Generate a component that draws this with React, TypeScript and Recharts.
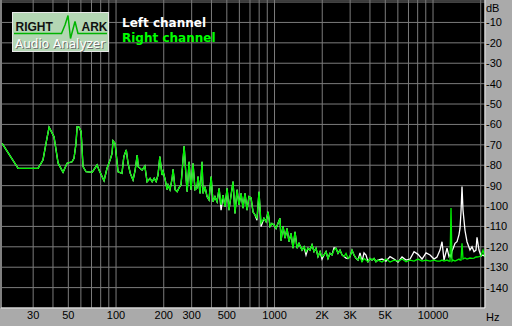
import { LineChart, Line, XAxis, YAxis, CartesianGrid, ReferenceLine } from 'recharts';

// spectrum readout, frequency in Hz
const freqHz = [
  19.1, 24.1, 32.2, 34.6, 36.2, 37.8, 40.6, 43.1, 46.3, 49.1,
  52.8, 54.3, 55.9, 56.8, 58.4, 60.2, 61.9, 64.7, 70.6, 75.9,
  78.1, 84.0, 87.7, 91.7, 94.4, 95.7, 98.6, 103, 109, 112,
  116, 119, 123, 128, 132, 136, 138, 146, 152, 157,
  164, 169, 174, 179, 184, 189, 195, 198, 204, 210,
  213, 219, 226, 229, 236, 243, 250, 257, 269, 277,
  281, 289, 297, 306, 315, 324, 329, 339, 349, 354,
  364, 375, 386, 398, 409, 421, 434, 447, 460, 473,
  487, 502, 516, 532, 547, 563, 580, 597, 615, 633,
  651, 671, 690, 711, 732, 753, 775, 798, 822, 858,
  884, 910, 937, 964, 993, 1022, 1052, 1083, 1099, 1131,
  1165, 1199, 1234, 1271, 1308, 1347, 1387, 1427, 1491, 1535,
  1580, 1627, 1675, 1724, 1775, 1827, 1881, 1937, 1994, 2052,
  2113, 2175, 2239, 2305, 2373, 2443, 2515, 2589, 2666, 2744,
  2825, 2908, 2994, 3082, 3173, 3267, 3363, 3462, 3564, 3669,
  3777, 3889, 4003, 4121, 4243, 4368, 4496, 4765, 5051, 5354,
  5675, 6015, 6375, 6757, 7162, 7590, 8045, 8527, 9038, 9579,
  10146, 10598, 11070, 11397, 11733, 12255, 12616, 12801, 12988, 13178,
  13371, 13765, 14170, 14588, 14801, 15017, 15237, 15459, 15915, 16384,
  17113, 17618, 18137, 18672, 18945, 19504, 20078, 20670, 21280,
];

const leftDb = [
  -69.3, -81.5, -81.5, -77.5, -69, -61.4, -66, -79, -83.5, -79,
  -78.3, -76.6, -69.3, -61.1, -61.3, -63.6, -80.7, -83.2, -83.5, -79.9,
  -82.4, -87.6, -81.5, -77.5, -74.2, -68, -69.3, -83.2, -84, -75.8,
  -72.5, -79, -84, -87.3, -82.4, -75, -80.7, -82.4, -80.4, -88.1,
  -86.4, -88.1, -86.4, -88, -84.8, -75.8, -84.8, -83, -87, -92,
  -89.7, -92, -86.4, -82, -92, -93, -91, -89.7, -70.6, -87,
  -93, -78.3, -92, -79, -92, -91.3, -85.6, -93.8, -78.3, -93.8,
  -90.5, -95.4, -97, -85.6, -97.9, -95.4, -97.9, -91.3, -102, -94.6,
  -100.3, -91.3, -102, -94.6, -88, -103.6, -92, -99.5, -93.8, -101,
  -93.8, -102, -95.4, -96, -103, -104.4, -107, -93, -110, -106,
  -107.7, -102.8, -110, -108.5, -109.3, -111, -108.5, -106, -117, -110,
  -115.8, -111, -117.5, -113.4, -120.7, -112.6, -120.7, -118.3, -121.6, -120,
  -124, -120.7, -121.6, -119, -122.4, -120.7, -124.8, -122.4, -126, -124,
  -122.4, -125.7, -123.2, -124, -120.5, -120.7, -123.2, -121.6, -124, -124.8,
  -125.5, -125.7, -124.8, -121.6, -124, -125.7, -126.5, -123, -127.3, -123,
  -124, -127.3, -125.7, -126.5, -125.7, -127.3, -126.5, -126, -127, -124.8,
  -126, -127.5, -125, -126.5, -126, -122.4, -123.7, -126, -123, -124,
  -126, -125, -121.6, -117.5, -126.5, -120.7, -124.8, -124, -125, -122,
  -121, -118.3, -117.5, -114, -111, -102.8, -90.5, -102, -112, -117.5,
  -121.6, -120, -122.4, -121.6, -115.4, -121.6, -124.5, -124, -124.8,
];

const rightDb = [
  -69.3, -81.5, -81.5, -77.5, -69, -61.4, -66, -79, -83.5, -79,
  -78.3, -76.6, -69.3, -61.1, -61.3, -63.6, -80.7, -83.2, -83.5, -79.9,
  -82.4, -87.6, -81.5, -77.5, -74.2, -68, -69.3, -83.2, -84, -75.8,
  -72.5, -79, -84, -87.3, -82.4, -75, -80.7, -82.4, -80.4, -88.1,
  -86.4, -88.1, -86.4, -88, -84.8, -75.8, -84.8, -83, -87, -92,
  -89.7, -92, -86.4, -82, -92, -93, -91, -89.7, -70.6, -87,
  -93, -78.3, -92, -79, -92, -91.3, -85.6, -93.8, -78.3, -93.8,
  -90.5, -95.4, -97, -85.6, -97.9, -95.4, -97.9, -91.3, -99.5, -94.6,
  -100.3, -91.3, -102, -94.6, -88, -103.6, -92, -99.5, -93.8, -101,
  -93.8, -102, -95.4, -96, -103, -104.4, -106, -93, -108.5, -106,
  -107.7, -102.8, -110, -108.5, -109.3, -111, -108.5, -106, -117, -110,
  -115.8, -111, -117.5, -113.4, -120.7, -112.6, -120.7, -118.3, -121.6, -120,
  -122.4, -120.7, -121.6, -119, -122.4, -120.7, -124.8, -122.4, -124.8, -124,
  -122.4, -125.7, -123.2, -124, -121.6, -120.7, -123.2, -121.6, -124, -124.8,
  -123.2, -125.7, -124.8, -121.6, -124, -125.7, -126.5, -124.8, -127.3, -125.7,
  -126.5, -127.3, -125.7, -126.5, -125.7, -127.3, -126.5, -127.5, -126, -127.5,
  -126.5, -127, -126, -127.3, -126.5, -127, -126, -127, -126.5, -127,
  -126.5, -127, -127, -126.5, -127, -126.5, -127, -127, -101, -127,
  -126.5, -127, -126.5, -126, -126.5, -126.5, -118.3, -126, -125.5, -126,
  -125.5, -125.7, -125.5, -125, -125, -124.8, -124.5, -121.6, -125,
];

const gridFreqs = [
  30, 40, 50, 60, 70, 80, 90, 100, 200, 300, 400, 500, 600, 700, 800, 900,
  1000, 2000, 3000, 4000, 5000, 6000, 7000, 8000, 9000, 10000, 20000,
];
const freqLabels: Record<number, string> = {
  30: '30', 50: '50', 100: '100', 200: '200', 300: '300', 500: '500',
  1000: '1000', 2000: '2K', 3000: '3K', 5000: '5K', 10000: '10000',
};
const dbTicks = [0, -10, -20, -30, -40, -50, -60, -70, -80, -90, -100, -110, -120, -130, -140, -150];
const freqDomain = [18.8, 21280];
const dbDomain = [-150, 1];

const data = freqHz.map((f, i) => ({ f, left: leftDb[i], right: rightDb[i] }));

const axisFont = '"Liberation Sans", Arial, sans-serif';
const legendFont = '"DejaVu Sans", sans-serif';

function FreqTick({ x, y, payload }: any) {
  const label = freqLabels[payload.value];
  if (!label) return <g />;
  return (
    <text x={x} y={y + 11} textAnchor="middle" fontFamily={axisFont} fontSize={11} fill="#000">
      {label}
    </text>
  );
}

function DbTick({ x, y, payload }: any) {
  if (payload.value === -150) return <g />;
  if (payload.value === 0) {
    return (
      <text x={x} y={y + 9.5} fontFamily={axisFont} fontSize={11} fill="#000">dB</text>
    );
  }
  return (
    <text x={x} y={y + 4} fontFamily={axisFont} fontSize={11} fill="#000">
      {payload.value}
    </text>
  );
}

export default function App() {
  return (
    <div style={{ position: 'absolute', left: 0, top: 0, width: 512, height: 326, background: '#aaaaaa' }}>
      <LineChart width={512} height={326} data={data} margin={{ top: 0, right: 0, bottom: 0, left: 1 }}>
        <CartesianGrid stroke="#7c7c7c" fill="#000" fillOpacity={1} />
        <XAxis
          dataKey="f"
          type="number"
          scale="log"
          domain={freqDomain}
          allowDataOverflow
          ticks={gridFreqs}
          interval={0}
          height={18}
          tickSize={0}
          tickMargin={0}
          tickLine={false}
          axisLine={{ stroke: '#fff' }}
          tick={<FreqTick />}
          label={{ value: 'Hz', position: 'right', offset: 1, fill: '#000', fontSize: 11, fontFamily: axisFont }}
        />
        <YAxis
          orientation="right"
          type="number"
          domain={dbDomain}
          allowDataOverflow
          ticks={dbTicks}
          interval={0}
          width={27}
          tickSize={0}
          tickMargin={1}
          tickLine={false}
          axisLine={{ stroke: '#fff' }}
          tick={<DbTick />}
        />
        <ReferenceLine x={freqDomain[0]} stroke="#808080" strokeWidth={2} />
        <Line dataKey="left" stroke="#ffffff" strokeWidth={1.3} dot={false} isAnimationActive={false} />
        <Line dataKey="right" stroke="#00f000" strokeWidth={1.3} dot={false} isAnimationActive={false} />
      </LineChart>
      <svg width={512} height={326} style={{ position: 'absolute', left: 0, top: 0, pointerEvents: 'none' }}>
        <rect x={12.5} y={12.5} width={96} height={39} fill="#b4d6b4" stroke="#e8e8e8" />
        <polyline
          points="14,33.5 61.5,33.5 65,25 68,15.5 70.5,38.5 75,21.5 78,33.5 107,33.5"
          fill="none"
          stroke="#00b400"
          strokeWidth={1.5}
        />
        <text x={15.5} y={30.5} fontFamily={axisFont} fontWeight="bold" fontSize={12} fill="#111">RIGHT</text>
        <text x={81.5} y={30.5} fontFamily={axisFont} fontWeight="bold" fontSize={12} fill="#111">ARK</text>
        <text x={16} y={48.5} fontFamily={legendFont} fontSize={12} fill="#6a6a6a">Audio Analyzer</text>
        <text x={15} y={47.5} fontFamily={legendFont} fontSize={12} fill="#fff">Audio Analyzer</text>
        <text x={122} y={26.5} fontFamily={legendFont} fontWeight="bold" fontSize={12} fill="#fff">Left channel</text>
        <text x={122} y={41.5} fontFamily={legendFont} fontWeight="bold" fontSize={12} fill="#00ff00">Right channel</text>
      </svg>
    </div>
  );
}
